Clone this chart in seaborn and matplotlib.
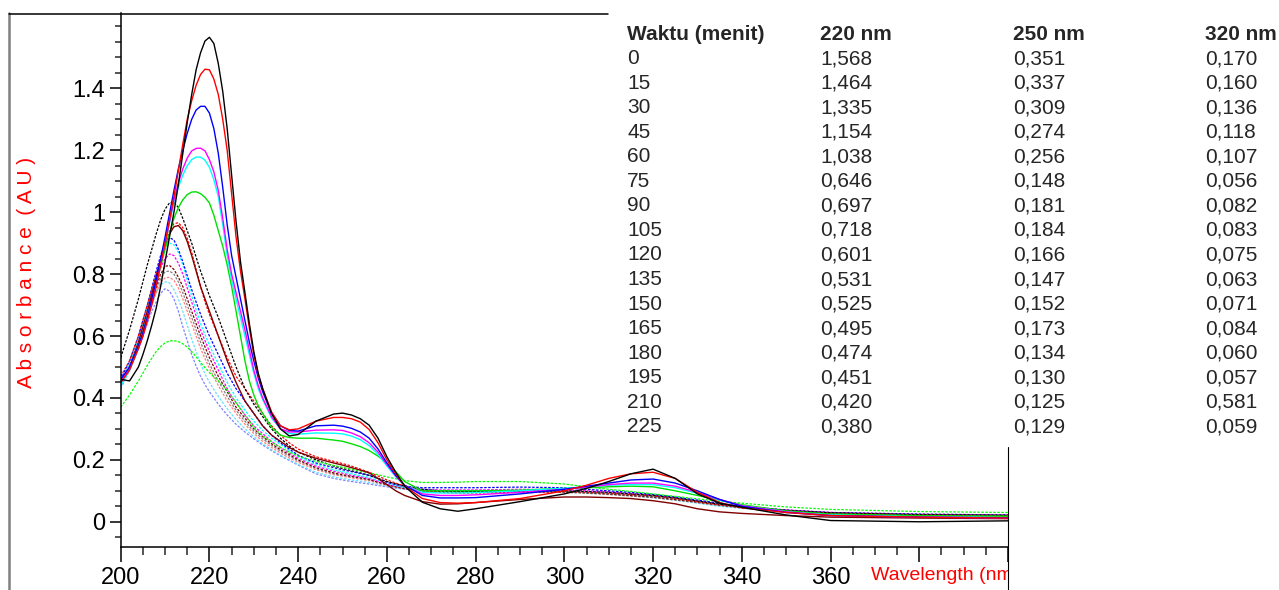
import matplotlib
matplotlib.use("Agg")
import matplotlib.pyplot as plt
import seaborn as sns
from matplotlib import font_manager
from matplotlib.lines import Line2D
from matplotlib.patches import Rectangle
from matplotlib.ticker import FixedLocator, MultipleLocator

# ---------------- data ----------------
wavelength = [200, 202,
              204, 205, 206, 207, 208, 209, 210, 211, 212, 213,
              214, 215, 216, 217, 218, 219, 220, 221, 222, 223,
              224, 225, 226, 227, 228, 229, 230, 231, 232,
              234, 236, 238, 240,
              244, 248, 250, 252, 254, 256, 258, 260, 262, 264, 268, 272, 276, 280,
              290, 300, 305, 310, 315, 320, 325, 330, 335, 340, 350, 360, 380, 400]

black_solid = [0.46, 0.455,
               0.5, 0.54, 0.585, 0.635, 0.69, 0.76, 0.84, 0.92, 1.0, 1.09,
               1.19, 1.29, 1.38, 1.46, 1.515, 1.553, 1.565, 1.545, 1.48, 1.39,
               1.27, 1.12, 0.97, 0.84, 0.74, 0.64, 0.55, 0.48, 0.43,
               0.35, 0.3, 0.277, 0.282,
               0.325, 0.348, 0.351, 0.345, 0.333, 0.312, 0.27, 0.21, 0.16, 0.115, 0.063, 0.042, 0.034, 0.042,
               0.065, 0.09, 0.108, 0.13, 0.155, 0.17, 0.14, 0.09, 0.06, 0.047, 0.022, 0.004, 0.0, 0.003]
red_solid = [0.45, 0.49,
             0.56, 0.6, 0.65, 0.7, 0.76, 0.83, 0.9, 0.975, 1.05, 1.135,
             1.22, 1.3, 1.36, 1.41, 1.445, 1.462, 1.46, 1.43, 1.38, 1.3,
             1.2, 1.06, 0.92, 0.81, 0.72, 0.625, 0.54, 0.475, 0.43,
             0.355, 0.31, 0.297, 0.3,
             0.325, 0.337, 0.337, 0.333, 0.322, 0.298, 0.255, 0.2, 0.155, 0.115, 0.075, 0.062, 0.06, 0.062,
             0.075, 0.1, 0.118, 0.14, 0.155, 0.16, 0.14, 0.095, 0.062, 0.045, 0.03, 0.02, 0.015, 0.012]
blue_solid = [0.46, 0.5,
              0.57, 0.61, 0.66, 0.72, 0.78, 0.85, 0.92, 0.995, 1.07, 1.14,
              1.2, 1.255, 1.3, 1.33, 1.342, 1.342, 1.32, 1.27, 1.19, 1.08,
              0.96, 0.86, 0.79, 0.72, 0.65, 0.58, 0.52, 0.465, 0.42,
              0.35, 0.31, 0.295, 0.293,
              0.31, 0.312, 0.309, 0.302, 0.29, 0.27, 0.235, 0.19, 0.15, 0.118, 0.085, 0.077, 0.077, 0.078,
              0.09, 0.105, 0.115, 0.125, 0.135, 0.138, 0.125, 0.1, 0.072, 0.05, 0.03, 0.02, 0.015, 0.013]
magenta_solid = [0.45, 0.5,
                 0.56, 0.6, 0.65, 0.71, 0.77, 0.835, 0.9, 0.97, 1.04, 1.095,
                 1.14, 1.175, 1.198, 1.206, 1.207, 1.198, 1.17, 1.13, 1.07, 0.98,
                 0.88, 0.8, 0.74, 0.68, 0.62, 0.555, 0.49, 0.44, 0.4,
                 0.34, 0.3, 0.29, 0.29,
                 0.296, 0.297, 0.295, 0.287, 0.275, 0.255, 0.225, 0.185, 0.148, 0.117, 0.09, 0.085, 0.085, 0.087,
                 0.095, 0.105, 0.112, 0.12, 0.125, 0.125, 0.115, 0.095, 0.072, 0.052, 0.032, 0.02, 0.015, 0.012]
cyan_solid = [0.44, 0.49,
              0.56, 0.6, 0.65, 0.71, 0.77, 0.835, 0.9, 0.965, 1.03, 1.08,
              1.12, 1.15, 1.17, 1.178, 1.178, 1.168, 1.145, 1.105, 1.05, 0.96,
              0.86, 0.78, 0.72, 0.66, 0.6, 0.54, 0.48, 0.43, 0.395,
              0.335, 0.3, 0.285, 0.283,
              0.287, 0.286, 0.284, 0.277, 0.265, 0.246, 0.218, 0.18, 0.145, 0.117, 0.095, 0.093, 0.093, 0.094,
              0.1, 0.108, 0.113, 0.118, 0.12, 0.12, 0.11, 0.092, 0.07, 0.052, 0.032, 0.022, 0.016, 0.013]
green_solid = [0.45, 0.5,
               0.57, 0.61, 0.66, 0.715, 0.77, 0.825, 0.88, 0.93, 0.98, 1.015,
               1.04, 1.057, 1.065, 1.066, 1.06, 1.048, 1.03, 0.99, 0.94, 0.89,
               0.83, 0.76, 0.68, 0.6, 0.52, 0.455, 0.41, 0.375, 0.35,
               0.305, 0.28, 0.272, 0.27,
               0.27, 0.264, 0.26, 0.252, 0.243, 0.23, 0.212, 0.19, 0.162, 0.13, 0.1, 0.1, 0.1, 0.1,
               0.102, 0.108, 0.11, 0.113, 0.115, 0.113, 0.1, 0.085, 0.07, 0.055, 0.035, 0.025, 0.02, 0.018]
brown_solid = [0.45, 0.5,
               0.58, 0.63, 0.68, 0.735, 0.79, 0.845, 0.89, 0.93, 0.953, 0.957,
               0.94, 0.905, 0.86, 0.81, 0.76, 0.72, 0.68, 0.64, 0.6, 0.56,
               0.52, 0.485, 0.45, 0.42, 0.39, 0.37, 0.35, 0.33, 0.31,
               0.28, 0.26, 0.24, 0.225,
               0.205, 0.19, 0.183, 0.175, 0.167, 0.158, 0.14, 0.12, 0.1, 0.085, 0.065, 0.057, 0.058, 0.062,
               0.072, 0.08, 0.08, 0.078, 0.075, 0.068, 0.058, 0.042, 0.032, 0.027, 0.02, 0.015, 0.012, 0.01]
black_dash = [0.53, 0.62,
              0.72, 0.775, 0.83, 0.88, 0.93, 0.975, 1.01, 1.03, 1.033, 1.015,
              0.98, 0.94, 0.9, 0.855, 0.81, 0.77, 0.73, 0.695, 0.66, 0.62,
              0.58, 0.54, 0.5, 0.465, 0.43, 0.405, 0.38, 0.36, 0.34,
              0.3, 0.27, 0.245, 0.225,
              0.2, 0.18, 0.172, 0.165, 0.158, 0.15, 0.14, 0.13, 0.122, 0.115, 0.105, 0.1, 0.098, 0.098,
              0.1, 0.1, 0.098, 0.095, 0.09, 0.085, 0.077, 0.067, 0.057, 0.049, 0.037, 0.029, 0.023, 0.021]
red_dash = [0.47, 0.52,
            0.6, 0.65, 0.7, 0.75, 0.8, 0.85, 0.9, 0.94, 0.963, 0.966,
            0.95, 0.915, 0.87, 0.815, 0.76, 0.71, 0.67, 0.635, 0.6, 0.565,
            0.53, 0.5, 0.47, 0.45, 0.43, 0.41, 0.39, 0.37, 0.35,
            0.31, 0.28, 0.255, 0.235,
            0.21, 0.195, 0.188, 0.18, 0.17, 0.16, 0.148, 0.135, 0.125, 0.115, 0.1, 0.095, 0.093, 0.093,
            0.095, 0.097, 0.095, 0.092, 0.088, 0.083, 0.075, 0.065, 0.055, 0.048, 0.035, 0.028, 0.022, 0.02]
blue_dash = [0.46, 0.52,
             0.6, 0.65, 0.7, 0.755, 0.81, 0.86, 0.9, 0.918, 0.91, 0.88,
             0.84, 0.795, 0.75, 0.71, 0.67, 0.635, 0.6, 0.57, 0.54, 0.51,
             0.48, 0.455, 0.43, 0.41, 0.39, 0.37, 0.35, 0.33, 0.31,
             0.28, 0.255, 0.235, 0.215,
             0.19, 0.175, 0.168, 0.162, 0.156, 0.15, 0.14, 0.128, 0.12, 0.115, 0.11, 0.11, 0.11, 0.11,
             0.112, 0.11, 0.105, 0.1, 0.095, 0.088, 0.08, 0.07, 0.06, 0.05, 0.038, 0.03, 0.025, 0.022]
cyan_dash = [0.45, 0.51,
             0.59, 0.64, 0.69, 0.745, 0.8, 0.845, 0.88, 0.9, 0.895, 0.87,
             0.83, 0.78, 0.73, 0.685, 0.64, 0.605, 0.57, 0.54, 0.51, 0.48,
             0.45, 0.425, 0.4, 0.38, 0.36, 0.342, 0.325, 0.31, 0.295,
             0.27, 0.25, 0.23, 0.21,
             0.185, 0.168, 0.162, 0.155, 0.149, 0.143, 0.134, 0.125, 0.117, 0.11, 0.103, 0.1, 0.1, 0.1,
             0.1, 0.098, 0.095, 0.092, 0.088, 0.082, 0.075, 0.066, 0.056, 0.048, 0.036, 0.028, 0.022, 0.02]
magenta_dot = [0.44, 0.5,
               0.58, 0.63, 0.68, 0.73, 0.78, 0.82, 0.85, 0.865, 0.86, 0.835,
               0.8, 0.755, 0.71, 0.665, 0.62, 0.585, 0.55, 0.52, 0.49, 0.46,
               0.43, 0.405, 0.385, 0.365, 0.345, 0.327, 0.31, 0.297, 0.285,
               0.26, 0.24, 0.222, 0.205,
               0.18, 0.163, 0.157, 0.15, 0.145, 0.14, 0.131, 0.122, 0.115, 0.11, 0.105, 0.103, 0.103, 0.103,
               0.105, 0.104, 0.1, 0.097, 0.092, 0.086, 0.078, 0.068, 0.058, 0.05, 0.038, 0.03, 0.024, 0.022]
brown_dot = [0.44, 0.5,
             0.57, 0.615, 0.66, 0.71, 0.76, 0.8, 0.825, 0.828, 0.815, 0.79,
             0.76, 0.72, 0.68, 0.64, 0.6, 0.565, 0.53, 0.5, 0.47, 0.445,
             0.42, 0.395, 0.37, 0.352, 0.335, 0.317, 0.3, 0.287, 0.275,
             0.252, 0.233, 0.217, 0.2,
             0.175, 0.158, 0.152, 0.147, 0.142, 0.137, 0.128, 0.12, 0.113, 0.107, 0.1, 0.098, 0.097, 0.097,
             0.098, 0.097, 0.094, 0.09, 0.085, 0.08, 0.072, 0.064, 0.054, 0.046, 0.035, 0.027, 0.022, 0.02]
gray_dot = [0.44, 0.5,
            0.57, 0.615, 0.66, 0.705, 0.75, 0.785, 0.808, 0.81, 0.8, 0.775,
            0.74, 0.7, 0.66, 0.62, 0.58, 0.545, 0.51, 0.482, 0.455, 0.43,
            0.405, 0.382, 0.36, 0.342, 0.325, 0.308, 0.293, 0.28, 0.268,
            0.247, 0.228, 0.212, 0.197,
            0.172, 0.155, 0.15, 0.145, 0.14, 0.135, 0.127, 0.12, 0.113, 0.107, 0.1, 0.097, 0.096, 0.096,
            0.096, 0.095, 0.092, 0.088, 0.083, 0.078, 0.07, 0.062, 0.053, 0.045, 0.034, 0.026, 0.021, 0.019]
salmon_dot = [0.45, 0.51,
              0.58, 0.62, 0.66, 0.7, 0.74, 0.772, 0.788, 0.79, 0.78, 0.755,
              0.72, 0.68, 0.64, 0.6, 0.56, 0.527, 0.495, 0.467, 0.44, 0.415,
              0.39, 0.37, 0.35, 0.332, 0.315, 0.3, 0.285, 0.272, 0.26,
              0.24, 0.222, 0.206, 0.192,
              0.168, 0.152, 0.147, 0.142, 0.137, 0.133, 0.125, 0.118, 0.112, 0.106, 0.1, 0.097, 0.096, 0.096,
              0.097, 0.096, 0.093, 0.09, 0.085, 0.08, 0.072, 0.063, 0.054, 0.046, 0.035, 0.027, 0.022, 0.02]
lightcyan_dot = [0.43, 0.5,
                 0.57, 0.615, 0.66, 0.7, 0.74, 0.765, 0.775, 0.772, 0.75, 0.72,
                 0.68, 0.635, 0.59, 0.55, 0.51, 0.478, 0.45, 0.427, 0.405, 0.385,
                 0.365, 0.347, 0.33, 0.315, 0.3, 0.287, 0.275, 0.263, 0.252,
                 0.233, 0.215, 0.2, 0.185,
                 0.16, 0.145, 0.14, 0.135, 0.131, 0.127, 0.121, 0.115, 0.11, 0.105, 0.1, 0.098, 0.098, 0.098,
                 0.099, 0.098, 0.094, 0.09, 0.085, 0.078, 0.07, 0.06, 0.05, 0.043, 0.033, 0.026, 0.021, 0.019]
lightblue_dot = [0.43, 0.49,
                 0.56, 0.6, 0.64, 0.68, 0.71, 0.738, 0.753, 0.745, 0.72, 0.68,
                 0.63, 0.585, 0.54, 0.503, 0.47, 0.443, 0.42, 0.4, 0.38, 0.362,
                 0.345, 0.33, 0.315, 0.302, 0.29, 0.279, 0.268, 0.258, 0.248,
                 0.23, 0.213, 0.198, 0.183,
                 0.155, 0.14, 0.135, 0.13, 0.126, 0.122, 0.117, 0.113, 0.109, 0.105, 0.102, 0.1, 0.1, 0.1,
                 0.1, 0.1, 0.096, 0.092, 0.087, 0.08, 0.072, 0.062, 0.052, 0.045, 0.035, 0.028, 0.023, 0.02]
green_dot = [0.37, 0.41,
             0.455, 0.48, 0.505, 0.528, 0.55, 0.566, 0.578, 0.584, 0.585, 0.582,
             0.575, 0.564, 0.55, 0.533, 0.515, 0.498, 0.482, 0.468, 0.455, 0.44,
             0.425, 0.405, 0.385, 0.365, 0.345, 0.325, 0.305, 0.29, 0.278,
             0.258, 0.24, 0.225, 0.212,
             0.195, 0.182, 0.176, 0.17, 0.164, 0.158, 0.152, 0.145, 0.139, 0.133, 0.127, 0.127, 0.128, 0.13,
             0.13, 0.122, 0.113, 0.105, 0.098, 0.09, 0.082, 0.074, 0.066, 0.06, 0.048, 0.04, 0.033, 0.03]

table_times = ["0", "15", "30", "45", "60", "75", "90", "105", "120", "135", "150", "165", "180", "195", "210", "225"]
table_220 = ["1,568", "1,464", "1,335", "1,154", "1,038", "0,646", "0,697", "0,718", "0,601", "0,531", "0,525",
             "0,495", "0,474", "0,451", "0,420", "0,380"]
table_250 = ["0,351", "0,337", "0,309", "0,274", "0,256", "0,148", "0,181", "0,184", "0,166", "0,147", "0,152",
             "0,173", "0,134", "0,130", "0,125", "0,129"]
table_320 = ["0,170", "0,160", "0,136", "0,118", "0,107", "0,056", "0,082", "0,083", "0,075", "0,063", "0,071",
             "0,084", "0,060", "0,057", "0,581", "0,059"]
table_header = ["Waktu (menit)", "220 nm", "250 nm", "320 nm"]

x_tick_values = [200, 220, 240, 260, 280, 300, 320, 340, 360, 380, 400]
x_tick_labels = ["200", "220", "240", "260", "280", "300", "320", "340", "360", "", ""]
y_tick_values = [0, 0.2, 0.4, 0.6, 0.8, 1.0, 1.2, 1.4]
y_tick_labels = ["0", "0.2", "0.4", "0.6", "0.8", "1", "1.2", "1.4"]

# ---------------- style ----------------
names = {f.name for f in font_manager.fontManager.ttflist}
NARROW = "Liberation Sans Narrow" if "Liberation Sans Narrow" in names else "Liberation Sans"
sns.set_style("white")
plt.rcParams["font.family"] = [NARROW, "DejaVu Sans"]

W, H = 1279, 590
fig = plt.figure(figsize=(W / 100, H / 100), dpi=100)
fig.patch.set_facecolor("white")

def fx(x):
    return x / W

def fy(y):
    return 1 - y / H

ax_l, ax_r, ax_t, ax_b = 120.7, 1008.0, 13.0, 547.0
ax = fig.add_axes([fx(ax_l), fy(ax_b), fx(ax_r - ax_l), (ax_b - ax_t) / H])

SOLID = "-"
DOT = (0, (2.0, 1.2))
curves = [
    (lightblue_dot, "#8080FF", DOT), (lightcyan_dot, "#66E0FF", DOT), (salmon_dot, "#FF8080", DOT),
    (gray_dot, "#808080", DOT), (brown_dot, "#800000", DOT), (magenta_dot, "#FF00FF", DOT),
    (cyan_dash, "#00FFFF", DOT), (blue_dash, "#0000FF", DOT), (red_dash, "#FF0000", DOT),
    (black_dash, "#000000", DOT), (green_dot, "#00FF00", DOT),
    (brown_solid, "#800000", SOLID), (green_solid, "#00E000", SOLID), (cyan_solid, "#00FFFF", SOLID),
    (magenta_solid, "#FF00FF", SOLID), (blue_solid, "#0000FF", SOLID), (red_solid, "#FF0000", SOLID),
    (black_solid, "#000000", SOLID),
]
for vals, col, ls in curves:
    sns.lineplot(x=wavelength, y=vals, ax=ax, color=col, linestyle=ls,
                 linewidth=1.0 if ls == SOLID else 0.9, estimator=None, sort=False)

ax.set_xlim(200, 400)
ax.set_ylim(-0.0815, 1.6435)
ax.set_xlabel("")
ax.set_ylabel("")
for s in ["top", "right"]:
    ax.spines[s].set_visible(False)
for s in ["left", "bottom"]:
    ax.spines[s].set_visible(True)
    ax.spines[s].set_color("black")
    ax.spines[s].set_linewidth(1.1)

ax.xaxis.set_major_locator(FixedLocator(x_tick_values))
ax.set_xticklabels(x_tick_labels)
ax.xaxis.set_minor_locator(MultipleLocator(5))
ax.yaxis.set_major_locator(FixedLocator(y_tick_values))
ax.set_yticklabels(y_tick_labels)
ax.yaxis.set_minor_locator(MultipleLocator(0.05))
ax.tick_params(axis="x", which="major", direction="out", length=10.8, width=1.1, pad=3.5,
               labelsize=17, bottom=True, colors="black")
ax.tick_params(axis="x", which="minor", direction="out", length=5.8, width=1.1, bottom=True)
ax.tick_params(axis="y", which="major", direction="out", length=7.7, width=1.1, pad=3.5,
               labelsize=17, left=True, colors="black")
ax.tick_params(axis="y", which="minor", direction="out", length=4.3, width=1.1, left=True)

# axis titles
fig.text(fx(27), fy(272), "A b s o r b a n c e  ( A U )", rotation=90, color="red",
         fontsize=15, ha="center", va="center")
fig.text(fx(871), fy(567), "Wavelength (nm)", color="red", fontsize=14, ha="left", va="top", zorder=4)

# clip label at right and draw table box
fig.patches.append(Rectangle((fx(1008), 0), 1 - fx(1008), fy(548), transform=fig.transFigure,
                             facecolor="white", edgecolor="none", zorder=5))
fig.patches.append(Rectangle((fx(608), fy(447)), 1 - fx(608), 447 / H, transform=fig.transFigure,
                             facecolor="white", edgecolor="none", zorder=5))

# frame lines
fig.add_artist(Line2D([fx(9), fx(9)], [fy(13), 0], color="#808080", linewidth=1.8, zorder=6))
fig.add_artist(Line2D([fx(9), fx(608)], [fy(13.5), fy(13.5)], color="black", linewidth=1.1, zorder=6))
fig.add_artist(Line2D([fx(1007.5), fx(1007.5)], [fy(447), 0], color="black", linewidth=0.8, zorder=6))

# table
col_x = [627, 820, 1013, 1205]
header_y = 34
row_gap = 24.55
for cx, txt in zip(col_x, table_header):
    fig.text(fx(cx), fy(header_y), txt, fontsize=15, fontweight="bold", ha="left", va="center", zorder=7)
for i in range(len(table_times)):
    yy = header_y + row_gap * (i + 1)
    for cx, col in zip(col_x, [table_times, table_220, table_250, table_320]):
        fig.text(fx(cx), fy(yy), col[i], fontsize=15, ha="left", va="center", zorder=7)

fig.savefig("out.png", dpi=100, facecolor="white")
